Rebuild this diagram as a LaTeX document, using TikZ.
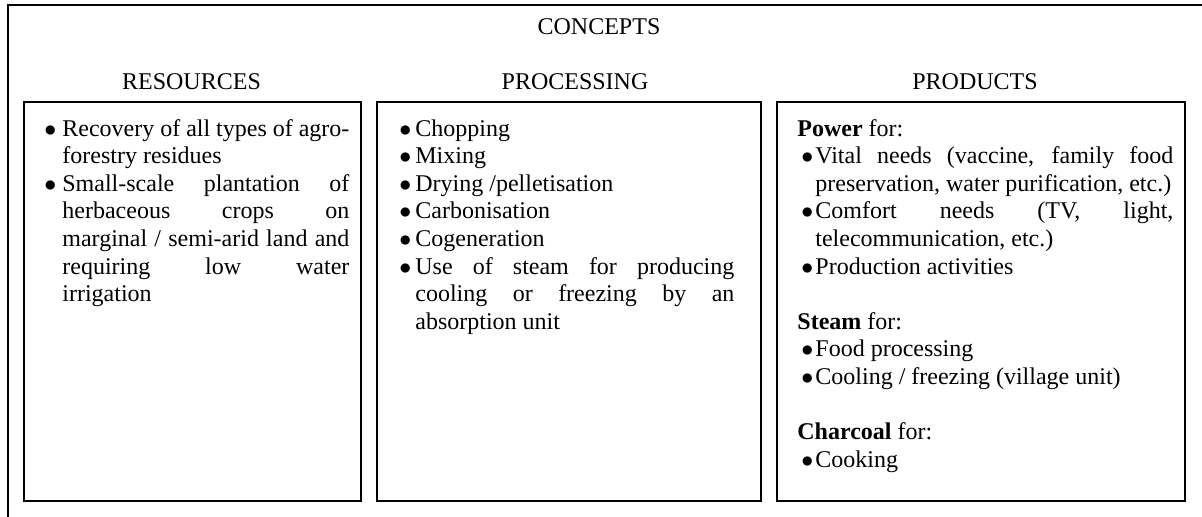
\documentclass[tikz,border=0pt]{standalone}
\usepackage{fontspec}
\setmainfont{Liberation Serif}
\newcommand{\bul}[2][0pt]{\par\noindent\hangindent=#2\hangafter=1\strut\hspace*{#1}\makebox[\dimexpr#2-#1\relax][l]{$\bullet$}}
\newcommand{\grp}[1]{\par\noindent\strut\textbf{#1} for:}
\tikzset{
  panel/.style={draw, line width=1pt, rectangle, anchor=north west, minimum height=199.5pt, inner sep=0pt},
  heading/.style={anchor=base, inner sep=0pt, font=\fontsize{12}{13.8}\selectfont},
  listtext/.style={anchor=north west, inner sep=0pt, align=justify, font=\fontsize{12}{13.8}\selectfont},
}
\begin{document}
\begin{tikzpicture}[x=0.5pt,y=-0.5pt]
\useasboundingbox (0,0) rectangle (1202,516);
% outer frame, cut off at right and bottom
\coordinate (fbl) at (8,530);
\coordinate (ftr) at (1210,5);
\draw[line width=1pt] (fbl) |- (ftr);
\node[heading] (concepts) at (599,34) {CONCEPTS};
% three columns
\node[panel, minimum width=168.5pt] (res) at (23,101) {};
\node[panel, minimum width=192pt] (proc) at (376,101) {};
\node[panel, minimum width=204pt] (prod) at (776,101) {};
\node[heading] (reshead) at (191.5,89) {RESOURCES};
\node[heading] (prochead) at (575,89) {PROCESSING};
\node[heading] (prodhead) at (975,89) {PRODUCTS};
% list texts
\node[listtext, text width=152.5pt] (restext) at (44,108) {%
\bul{9pt}Recovery of all types of agro-\linebreak forestry residues
\bul{9pt}Small-scale plantation of\linebreak herbaceous crops on\linebreak marginal / semi-arid land and\linebreak requiring low water\linebreak irrigation\par};
\node[listtext, text width=167.5pt] (proctext) at (399,108) {%
\bul{8pt}Chopping
\bul{8pt}Mixing
\bul{8pt}Drying /pelletisation
\bul{8pt}Carbonisation
\bul{8pt}Cogeneration
\bul{8pt}Use of steam for producing\linebreak cooling or freezing by an\linebreak absorption unit\par};
\node[listtext, text width=188pt] (prodtext) at (797,108) {%
\grp{Power}
\bul[2pt]{9pt}Vital needs (vaccine, family food\linebreak preservation, water purification, etc.)
\bul[2pt]{9pt}Comfort needs (TV, light,\linebreak telecommunication, etc.)
\bul[2pt]{9pt}Production activities
\par\vspace{\baselineskip}
\grp{Steam}
\bul[2pt]{9pt}Food processing
\bul[2pt]{9pt}Cooling / freezing (village unit)
\par\vspace{\baselineskip}
\grp{Charcoal}
\bul[2pt]{9pt}Cooking\par};
\end{tikzpicture}
\end{document}
